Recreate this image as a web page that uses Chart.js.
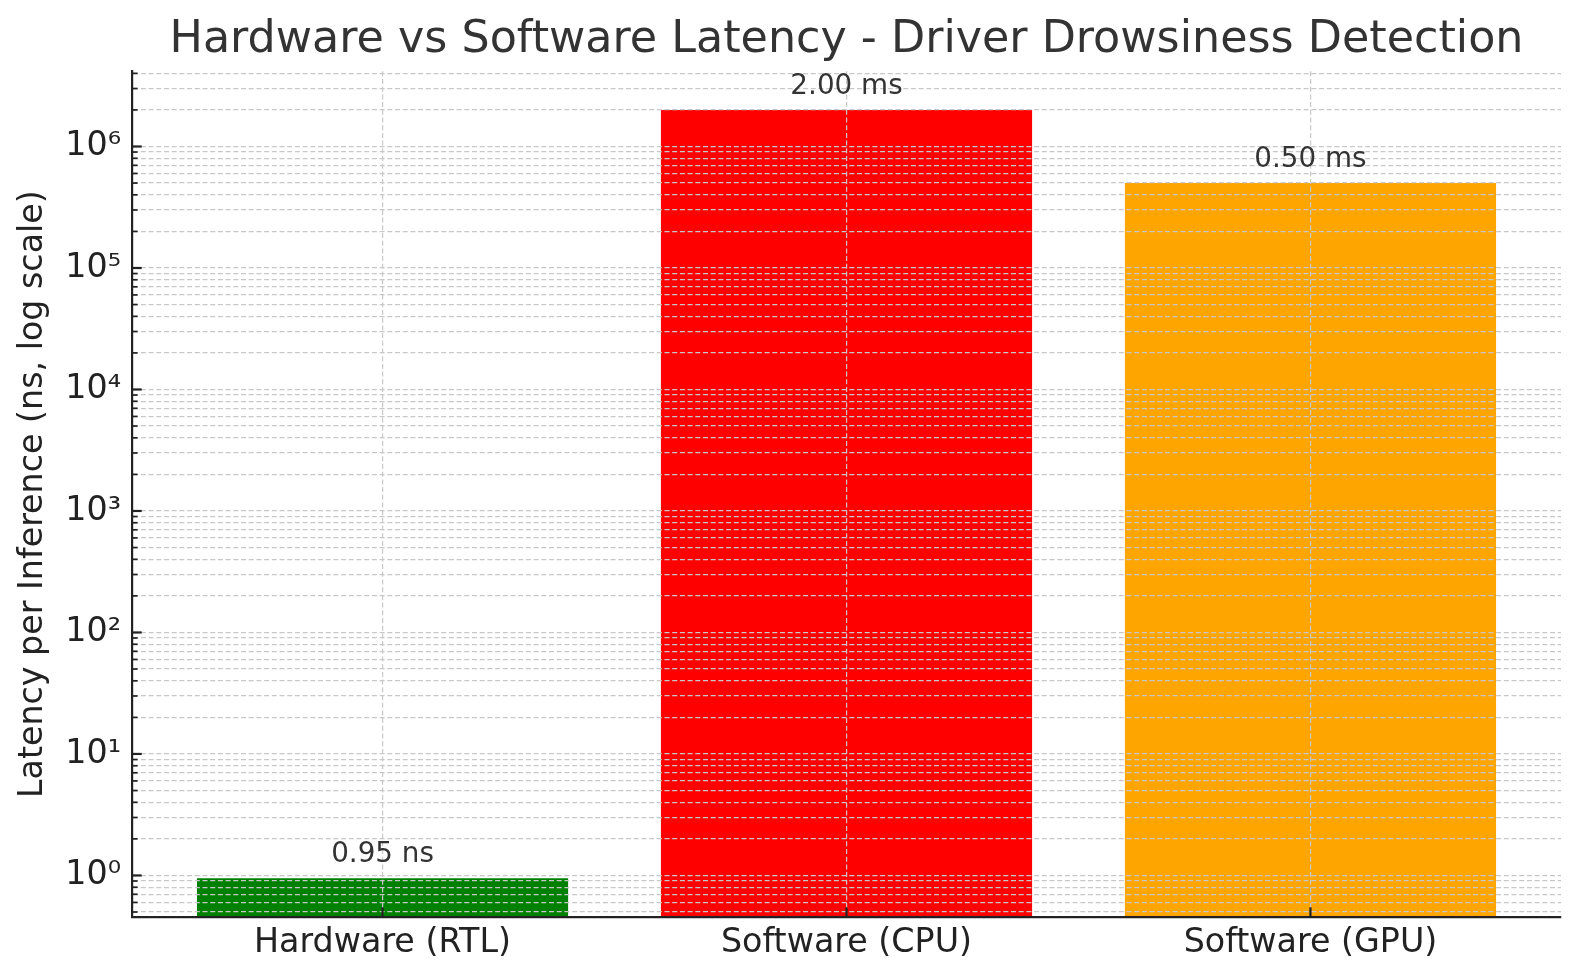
<!DOCTYPE html>
<html><head><meta charset="utf-8">
<script src="https://cdn.jsdelivr.net/npm/chart.js@4.4.0/dist/chart.umd.min.js"></script>
<style>html,body{margin:0;padding:0;background:#fff;}#wrap{width:1580px;height:980px;}</style>
</head><body><div id="wrap"><canvas id="c" width="1580" height="980"></canvas></div>
<script>
const categories = ['Hardware (RTL)', 'Software (CPU)', 'Software (GPU)'];
const latencyNs = [0.95, 2000000, 500000];
const valueLabels = ['0.95 ns', '2.00 ms', '0.50 ms'];
const barColors = ['#008000', '#ff0000', '#ffa500'];
const yMajorTicks = [1, 10, 100, 1000, 10000, 100000, 1000000];
const yMajorLabels = ['10⁰', '10¹', '10²', '10³', '10⁴', '10⁵', '10⁶'];
const yMinorMultipliers = [2, 3, 4, 5, 6, 7, 8, 9];
const yRange = [0.455, 4.16e6];
const xRange = [-0.54, 2.54];

const FONT = "'DejaVu Sans', sans-serif";
const GRID = '#c8c8c8';
const AXIS = '#222222';

// all y tick values (major + minor) inside the range
const decadeStarts = [0.1].concat(yMajorTicks);
const yAllTicks = [];
decadeStarts.forEach(d => {
  [1].concat(yMinorMultipliers).forEach(m => {
    const v = +(d * m).toPrecision(6);
    if (v >= yRange[0] && v <= yRange[1] && yAllTicks.indexOf(v) < 0) yAllTicks.push(v);
  });
});
yAllTicks.sort((a, b) => a - b);
const isMajor = v => yMajorTicks.indexOf(v) >= 0;

const tickMarks = {
  id: 'tickMarks',
  afterDraw(chart) {
    const ctx = chart.ctx, ys = chart.scales.y, xs = chart.scales.x;
    const left = chart.chartArea.left, bottom = chart.chartArea.bottom;
    ctx.save();
    ctx.strokeStyle = AXIS;
    yAllTicks.forEach(v => {
      const p = ys.getPixelForValue(v);
      const major = isMajor(v);
      ctx.lineWidth = major ? 2.2 : 1.7;
      ctx.beginPath();
      ctx.moveTo(left, p);
      ctx.lineTo(left + (major ? 9.7 : 5.6), p);
      ctx.stroke();
    });
    categories.forEach((c, i) => {
      const p = xs.getPixelForValue(i);
      ctx.lineWidth = 2.2;
      ctx.beginPath();
      ctx.moveTo(p, bottom);
      ctx.lineTo(p, bottom - 9.7);
      ctx.stroke();
    });
    // value labels above bars
    ctx.fillStyle = '#333333';
    ctx.font = "27.8px " + FONT;
    ctx.textAlign = 'center';
    ctx.textBaseline = 'alphabetic';
    latencyNs.forEach((v, i) => {
      const x = xs.getPixelForValue(i);
      const y = ys.getPixelForValue(v) - 16;
      ctx.fillText(valueLabels[i], x, y);
    });
    ctx.restore();
  }
};

new Chart(document.getElementById('c'), {
  type: 'bar',
  data: {
    datasets: [{
      data: categories.map((c, i) => ({ x: i, y: latencyNs[i] })),
      backgroundColor: barColors,
      borderWidth: 0,
      barPercentage: 0.8,
      categoryPercentage: 1.0
    }]
  },
  options: {
    responsive: false,
    animation: false,
    devicePixelRatio: 1,
    layout: { padding: { left: 0, right: 19, top: 0, bottom: 0 } },
    plugins: {
      legend: { display: false },
      tooltip: { enabled: false },
      title: {
        display: true,
        fullSize: false,
        text: 'Hardware vs Software Latency - Driver Drowsiness Detection',
        color: '#333333',
        font: { family: FONT, size: 44.4, weight: 'normal', lineHeight: 1.2 },
        padding: { top: 14, bottom: 4 }
      }
    },
    scales: {
      x: {
        type: 'linear',
        offset: false,
        min: xRange[0],
        max: xRange[1],
        afterBuildTicks(scale) { scale.ticks = categories.map((c, i) => ({ value: i })); },
        afterFit(scale) { scale.height = 63; },
        ticks: {
          autoSkip: false,
          maxRotation: 0,
          padding: 6,
          color: AXIS,
          font: { family: FONT, size: 33.3 },
          callback: v => categories[v]
        },
        grid: { offset: false, color: GRID, lineWidth: 1.2, drawTicks: false, z: 1 },
        border: { display: true, color: AXIS, width: 2.2, dash: [5, 2.7], z: 2 }
      },
      y: {
        type: 'logarithmic',
        min: yRange[0],
        max: yRange[1],
        afterBuildTicks(scale) { scale.ticks = yAllTicks.map(v => ({ value: v, major: isMajor(v) })); },
        afterFit(scale) { scale.width = 132; },
        ticks: {
          autoSkip: false,
          padding: 11,
          color: AXIS,
          font: { family: FONT, size: 33.3 },
          callback: v => { const k = yMajorTicks.indexOf(v); return k >= 0 ? yMajorLabels[k] : ''; }
        },
        grid: { color: GRID, lineWidth: 1.2, drawTicks: false, z: 1 },
        border: { display: true, color: AXIS, width: 2.2, dash: [5, 2.7], z: 2 },
        title: {
          display: true,
          text: 'Latency per Inference (ns, log scale)',
          color: AXIS,
          font: { family: FONT, size: 33.3, lineHeight: 1.2 },
          padding: { top: 13, bottom: 0 }
        }
      }
    }
  },
  plugins: [tickMarks]
});
</script>
</body></html>
